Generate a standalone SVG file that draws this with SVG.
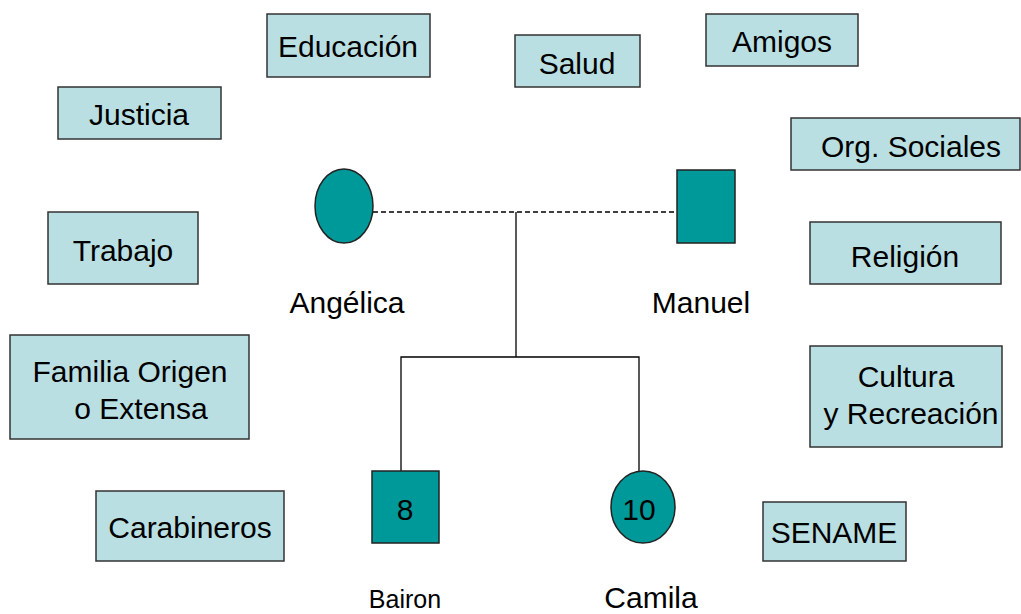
<svg xmlns="http://www.w3.org/2000/svg" width="1021" height="614" viewBox="0 0 1021 614">
<style>
.box{fill:#BADFE2;stroke:#333;stroke-width:1.5}
.teal{fill:#009999;stroke:#222;stroke-width:1.5}
text{font-family:"Liberation Sans",Arial,sans-serif;font-size:30px;fill:#000;text-anchor:middle}
.ln{stroke:#000;stroke-width:1.3;fill:none}
</style>
<rect width="1021" height="614" fill="#fff"/>
<g id="connectors">
<line class="ln" x1="373" y1="212" x2="677" y2="212" stroke-dasharray="5,3"/>
<line class="ln" x1="516" y1="212" x2="516" y2="357"/>
<polyline class="ln" points="401,471 401,357 639,357 639,471"/>
</g>
<g id="educacion"><rect class="box" x="267" y="14" width="163" height="63"/><text x="348" y="57">Educación</text></g>
<g id="salud"><rect class="box" x="515" y="35" width="125" height="52"/><text x="577" y="74">Salud</text></g>
<g id="amigos"><rect class="box" x="706" y="14" width="152" height="52"/><text x="782" y="52">Amigos</text></g>
<g id="justicia"><rect class="box" x="58" y="87" width="163" height="52"/><text x="139" y="125">Justicia</text></g>
<g id="org-sociales"><rect class="box" x="791" y="118" width="229" height="52"/><text x="911" y="157">Org. Sociales</text></g>
<g id="trabajo"><rect class="box" x="48" y="212" width="150" height="72"/><text x="123" y="261">Trabajo</text></g>
<g id="religion"><rect class="box" x="810" y="222" width="191" height="62"/><text x="905" y="267">Religión</text></g>
<g id="familia"><rect class="box" x="10" y="335" width="239" height="104"/><text x="130" y="382">Familia Origen</text><text x="141" y="419">o Extensa</text></g>
<g id="cultura"><rect class="box" x="810" y="346" width="192" height="101"/><text x="906" y="387">Cultura</text><text x="911" y="424">y Recreación</text></g>
<g id="carabineros"><rect class="box" x="96" y="491" width="188" height="70"/><text x="190" y="538">Carabineros</text></g>
<g id="sename"><rect class="box" x="763" y="502" width="143" height="59"/><text x="834" y="543">SENAME</text></g>
<g id="angelica"><ellipse class="teal" cx="344" cy="206" rx="29" ry="37"/><text x="347" y="313">Angélica</text></g>
<g id="manuel"><rect class="teal" x="677" y="170" width="58" height="73"/><text x="701" y="313">Manuel</text></g>
<g id="bairon"><rect class="teal" x="372" y="471" width="67" height="72"/><text x="405" y="520">8</text><text x="405" y="608" style="font-size:25px">Bairon</text></g>
<g id="camila"><ellipse class="teal" cx="643" cy="507" rx="32" ry="36"/><text x="639" y="520">10</text><text x="651" y="608">Camila</text></g>
</svg>
